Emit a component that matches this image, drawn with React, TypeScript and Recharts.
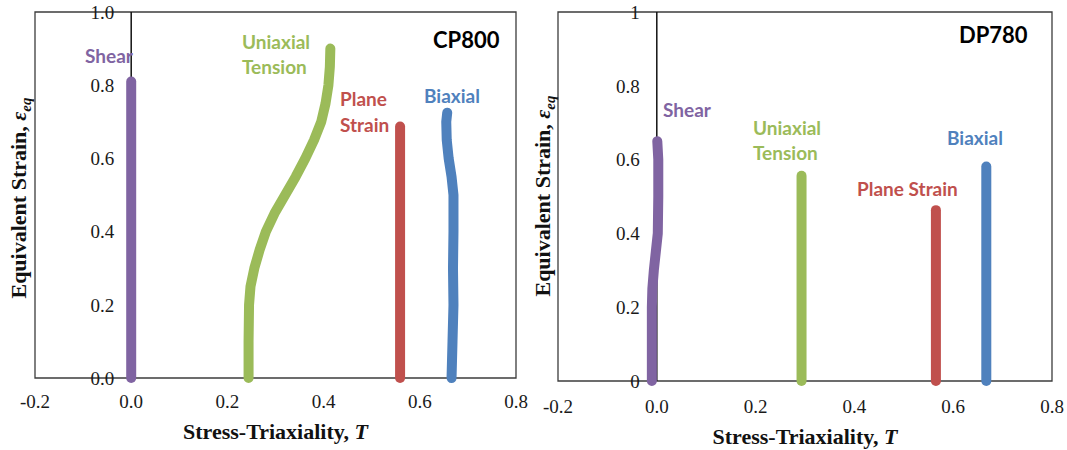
import React from "react"
import { LineChart, Line, XAxis, YAxis, ReferenceArea, ReferenceDot } from "recharts"

// shared axis ticks
const xTicks = [-0.2, 0, 0.2, 0.4, 0.6, 0.8]
const yTicks = [0, 0.2, 0.4, 0.6, 0.8, 1.0]

// CP800 (left panel) - stress triaxiality T vs equivalent strain
const cpShearT = [0, 0]
const cpShearStrain = [0, 0.81]
const cpUniaxialT = [0.244, 0.244, 0.245, 0.248, 0.256, 0.267, 0.28, 0.298, 0.32, 0.342, 0.362, 0.38, 0.395, 0.404, 0.41, 0.413, 0.414]
const cpUniaxialStrain = [0, 0.1, 0.2, 0.25, 0.3, 0.35, 0.4, 0.45, 0.5, 0.55, 0.6, 0.65, 0.7, 0.75, 0.8, 0.85, 0.9]
const cpPlaneT = [0.559, 0.559]
const cpPlaneStrain = [0, 0.687]
const cpBiaxialT = [0.666, 0.668, 0.67, 0.669, 0.67, 0.67, 0.666, 0.66, 0.656, 0.655, 0.657]
const cpBiaxialStrain = [0, 0.1, 0.2, 0.3, 0.4, 0.5, 0.55, 0.6, 0.65, 0.7, 0.725]

// DP780 (right panel)
const dpShearT = [-0.01, -0.01, -0.01, -0.009, -0.006, -0.002, 0.002, 0.003, 0.003, 0.001]
const dpShearStrain = [0, 0.1, 0.2, 0.25, 0.3, 0.35, 0.4, 0.5, 0.6, 0.65]
const dpUniaxialT = [0.293, 0.293]
const dpUniaxialStrain = [0, 0.556]
const dpPlaneT = [0.565, 0.565]
const dpPlaneStrain = [0, 0.463]
const dpBiaxialT = [0.667, 0.667]
const dpBiaxialStrain = [0, 0.581]

const COLORS = { shear: "#8064A2", uniaxial: "#9BBB59", plane: "#C0504D", biaxial: "#4F81BD" }

const zip = (t: number[], s: number[]) => t.map((x, i) => ({ x, y: s[i] }))
const axisLineData = zip([0, 0], [0, 1])

const serif = "'Liberation Serif', 'Times New Roman', serif"
const sans = "Lato, 'Open Sans', sans-serif"

function Panel({ series, width, margin, tickMargin, yFmt }: any) {
  return (
    <LineChart width={width} height={450} margin={margin}>
      <XAxis
        type="number"
        dataKey="x"
        domain={[-0.2, 0.8]}
        ticks={xTicks}
        tickFormatter={(v: number) => v.toFixed(1)}
        axisLine={false}
        tickLine={false}
        tickSize={6}
        tickMargin={tickMargin}
        height={30}
        tick={{ fontSize: 19, fill: "#1a1a1a", fontFamily: serif }}
        allowDataOverflow
      />
      <YAxis type="number" dataKey="y" domain={[0, 1]} ticks={yTicks} hide />
      <ReferenceArea x1={-0.2} x2={0.8} y1={0} y2={1} fill="none" stroke="#3c3c3c" strokeWidth={1.3} ifOverflow="visible" />
      {yTicks.map((v) => (
        <ReferenceDot
          key={v}
          x={0}
          y={v}
          r={0}
          fill="none"
          stroke="none"
          ifOverflow="visible"
          label={{ value: yFmt(v), position: "left", offset: 17, fontSize: 19, fill: "#1a1a1a", fontFamily: serif }}
        />
      ))}
      <Line data={axisLineData} dataKey="y" stroke="#111" strokeWidth={1.5} dot={false} activeDot={false} isAnimationActive={false} />
      {series.map((s: any) => (
        <Line
          key={s.name}
          data={s.data}
          dataKey="y"
          type="linear"
          stroke={s.color}
          strokeWidth={10}
          strokeLinecap="round"
          strokeLinejoin="round"
          dot={false}
          activeDot={false}
          isAnimationActive={false}
        />
      ))}
    </LineChart>
  )
}

function Note({ x, y, color, size = 19, children }: any) {
  return (
    <div
      style={{
        position: "absolute",
        left: x,
        top: y,
        transform: "translateY(-50%)",
        color,
        fontFamily: sans,
        fontWeight: 700,
        fontSize: size,
        lineHeight: 1,
        whiteSpace: "nowrap",
      }}
    >
      {children}
    </div>
  )
}

function YTitle({ x, y }: any) {
  return (
    <div
      style={{
        position: "absolute",
        left: x,
        top: y,
        transform: "translate(-50%, -50%) rotate(-90deg)",
        fontFamily: serif,
        fontWeight: 700,
        fontSize: 22,
        lineHeight: 1,
        whiteSpace: "nowrap",
        color: "#111",
      }}
    >
      Equivalent Strain, <i>ε<sub style={{ fontSize: 15 }}>eq</sub></i>
    </div>
  )
}

function XTitle({ x, y }: any) {
  return (
    <div
      style={{
        position: "absolute",
        left: x,
        top: y,
        transform: "translate(-50%, -50%)",
        fontFamily: serif,
        fontWeight: 700,
        fontSize: 22,
        lineHeight: 1,
        whiteSpace: "nowrap",
        color: "#111",
      }}
    >
      Stress-Triaxiality, <i>T</i>
    </div>
  )
}

export default function App() {
  const cpSeries = [
    { name: "Shear", color: COLORS.shear, data: zip(cpShearT, cpShearStrain) },
    { name: "Uniaxial Tension", color: COLORS.uniaxial, data: zip(cpUniaxialT, cpUniaxialStrain) },
    { name: "Plane Strain", color: COLORS.plane, data: zip(cpPlaneT, cpPlaneStrain) },
    { name: "Biaxial", color: COLORS.biaxial, data: zip(cpBiaxialT, cpBiaxialStrain) },
  ]
  const dpSeries = [
    { name: "Shear", color: COLORS.shear, data: zip(dpShearT, dpShearStrain) },
    { name: "Uniaxial Tension", color: COLORS.uniaxial, data: zip(dpUniaxialT, dpUniaxialStrain) },
    { name: "Plane Strain", color: COLORS.plane, data: zip(dpPlaneT, dpPlaneStrain) },
    { name: "Biaxial", color: COLORS.biaxial, data: zip(dpBiaxialT, dpBiaxialStrain) },
  ]

  return (
    <div style={{ position: "absolute", left: 0, top: 0, width: 1067, height: 450, overflow: "hidden", background: "#fff" }}>
      <div style={{ position: "absolute", left: 0, top: 0 }}>
        <Panel
          series={cpSeries}
          width={533}
          margin={{ top: 12, right: 17, bottom: 42, left: 35 }}
          tickMargin={11}
          yFmt={(v: number) => v.toFixed(1)}
        />
      </div>
      <div style={{ position: "absolute", left: 533, top: 0 }}>
        <Panel
          series={dpSeries}
          width={534}
          margin={{ top: 12, right: 15, bottom: 39, left: 25 }}
          tickMargin={13}
          yFmt={(v: number) => (v === 0 || v === 1 ? String(v) : v.toFixed(1))}
        />
      </div>

      {/* CP800 annotations */}
      <Note x={85} y={55} color={COLORS.shear}>Shear</Note>
      <Note x={242} y={41} color={COLORS.uniaxial}>Uniaxial</Note>
      <Note x={242} y={66} color={COLORS.uniaxial}>Tension</Note>
      <Note x={340} y={98} color={COLORS.plane}>Plane</Note>
      <Note x={340} y={124} color={COLORS.plane}>Strain</Note>
      <Note x={424} y={95} color={COLORS.biaxial}>Biaxial</Note>
      <Note x={433} y={40} color="#000" size={22}>CP800</Note>

      {/* DP780 annotations */}
      <Note x={663} y={109} color={COLORS.shear}>Shear</Note>
      <Note x={753} y={127} color={COLORS.uniaxial}>Uniaxial</Note>
      <Note x={753} y={152} color={COLORS.uniaxial}>Tension</Note>
      <Note x={857} y={188} color={COLORS.plane}>Plane Strain</Note>
      <Note x={947} y={137} color={COLORS.biaxial}>Biaxial</Note>
      <Note x={959} y={35} color="#000" size={22}>DP780</Note>

      <YTitle x={21} y={198} />
      <YTitle x={545} y={196} />
      <XTitle x={275.5} y={432} />
      <XTitle x={805} y={437} />
    </div>
  )
}
